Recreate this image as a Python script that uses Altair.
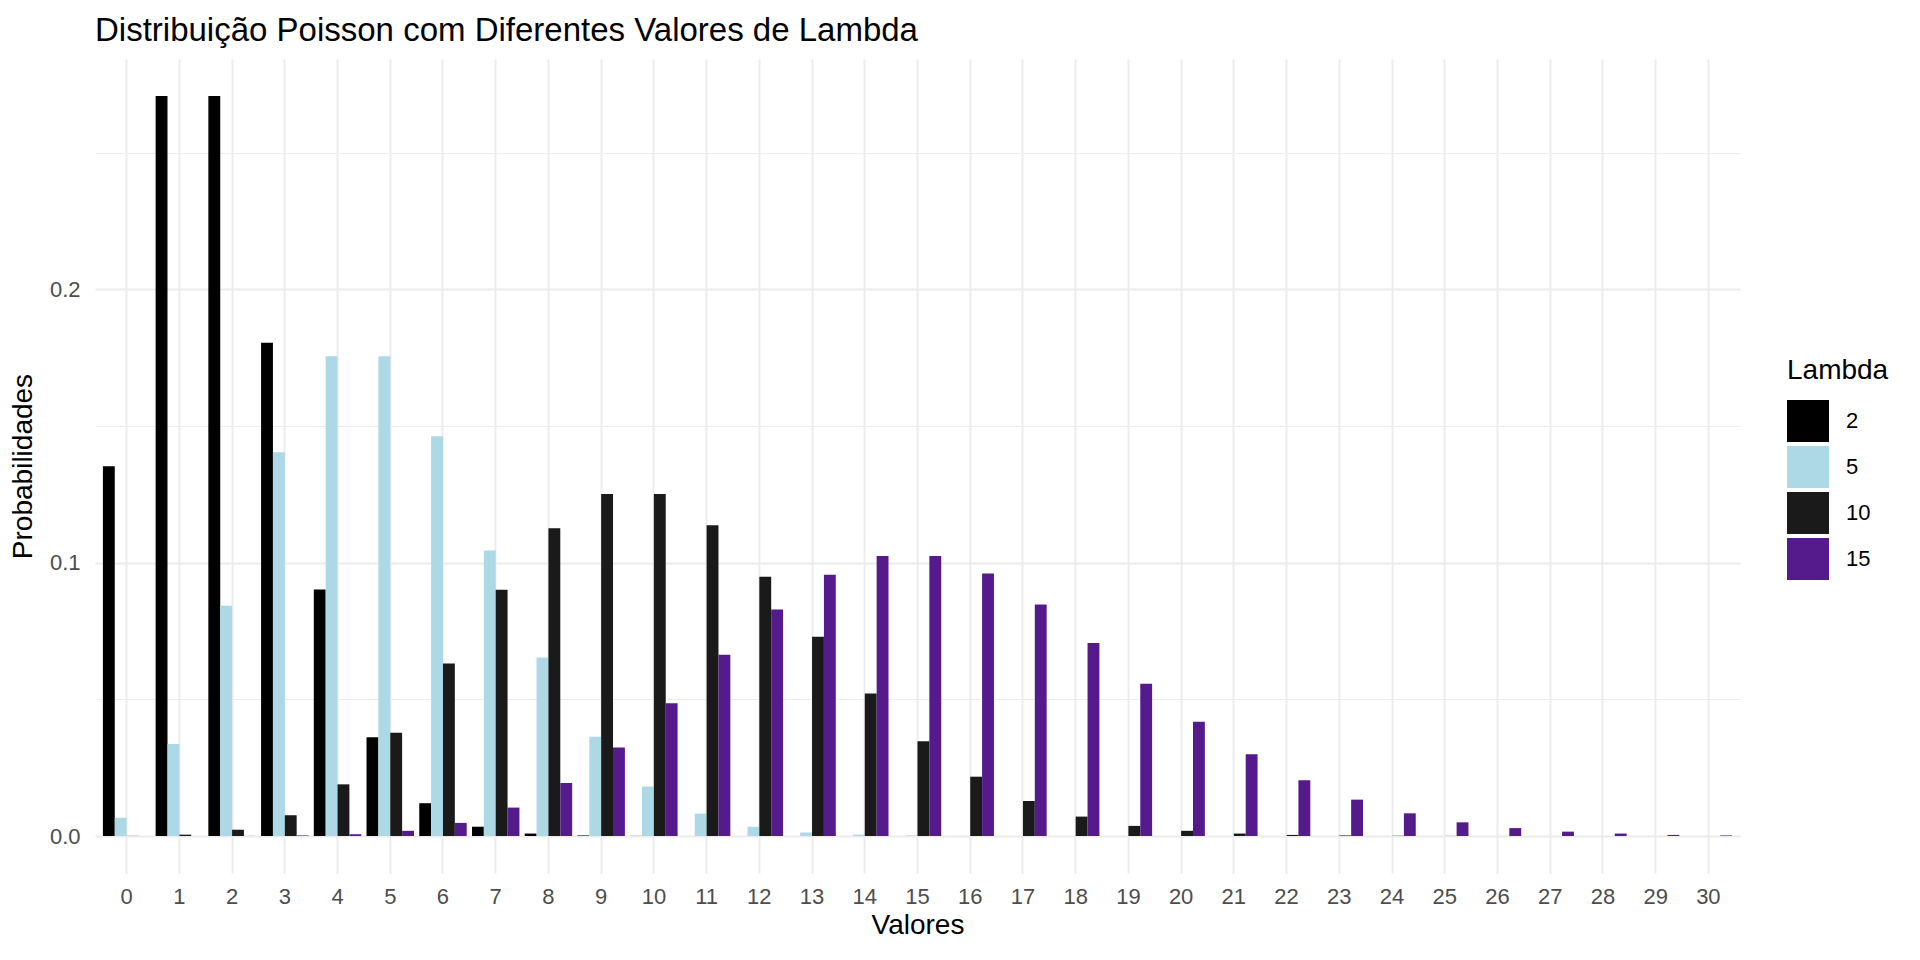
import altair as alt
import pandas as pd

valores = list(range(0, 31))
lambdas = ["2", "5", "10", "15"]
cores = ["#000000", "#ADD8E6", "#1A1A1A", "#551A8B"]

prob_l2 = [0.1353, 0.2707, 0.2707, 0.1804, 0.0902, 0.0361, 0.0120, 0.0034, 0.0009, 0.0002,
           0.00004, 0.00001, 0.0, 0.0, 0.0, 0.0, 0.0, 0.0, 0.0, 0.0,
           0.0, 0.0, 0.0, 0.0, 0.0, 0.0, 0.0, 0.0, 0.0, 0.0, 0.0]
prob_l5 = [0.0067, 0.0337, 0.0842, 0.1404, 0.1755, 0.1755, 0.1462, 0.1044, 0.0653, 0.0363,
           0.0181, 0.0082, 0.0034, 0.0013, 0.0005, 0.0002, 0.00005, 0.00001, 0.0, 0.0,
           0.0, 0.0, 0.0, 0.0, 0.0, 0.0, 0.0, 0.0, 0.0, 0.0, 0.0]
prob_l10 = [0.00005, 0.0005, 0.0023, 0.0076, 0.0189, 0.0378, 0.0631, 0.0901, 0.1126, 0.1251,
            0.1251, 0.1137, 0.0948, 0.0729, 0.0521, 0.0347, 0.0217, 0.0128, 0.0071, 0.0037,
            0.0019, 0.0009, 0.0004, 0.0002, 0.00008, 0.00003, 0.00001, 0.0, 0.0, 0.0, 0.0]
prob_l15 = [0.0, 0.0, 0.00003, 0.0002, 0.0006, 0.0019, 0.0048, 0.0104, 0.0194, 0.0324,
            0.0486, 0.0663, 0.0829, 0.0956, 0.1024, 0.1024, 0.0960, 0.0847, 0.0706, 0.0557,
            0.0418, 0.0299, 0.0204, 0.0133, 0.0083, 0.0050, 0.0029, 0.0016, 0.0009, 0.0004, 0.0002]

series = {"2": prob_l2, "5": prob_l5, "10": prob_l10, "15": prob_l15}
rows = []
for lam in lambdas:
    for v, p in zip(valores, series[lam]):
        rows.append({"Valores": v, "Lambda": lam, "Probabilidades": p})
df = pd.DataFrame(rows)

y_ticks = [0.0, 0.05, 0.1, 0.15, 0.2, 0.25]
minor_test = "datum.value == 0.05 || datum.value == 0.15 || datum.value == 0.25"

FONT = "Liberation Sans"

chart = alt.Chart(df).mark_bar().encode(
    x=alt.X(
        "Valores:O",
        title="Valores",
        scale=alt.Scale(paddingInner=0.1, paddingOuter=0.15),
        axis=alt.Axis(
            labelAngle=0, ticks=False, domain=False, grid=True, bandPosition=0.5,
            gridColor="#EBEBEB", gridWidth=1.9,
            labelFontSize=22, labelColor="#4D4D4D", labelPadding=13, labelFont=FONT,
            titleFontSize=28, titleFontWeight="normal", titleColor="#000000",
            titleFont=FONT, titlePadding=4,
        ),
    ),
    xOffset=alt.XOffset("Lambda:N", sort=lambdas,
                        scale=alt.Scale(paddingInner=0, paddingOuter=0)),
    y=alt.Y(
        "Probabilidades:Q",
        title="Probabilidades",
        scale=alt.Scale(domain=[-0.01353, 0.28423], zero=False, nice=False),
        axis=alt.Axis(
            values=y_ticks, ticks=False, domain=False, grid=True,
            gridColor="#EBEBEB",
            gridWidth=alt.condition(minor_test, alt.value(0.95), alt.value(1.9)),
            labelExpr=f"({minor_test}) ? '' : format(datum.value, '.1f')",
            labelFontSize=22, labelColor="#4D4D4D", labelPadding=15, labelFont=FONT,
            titleFontSize=28, titleFontWeight="normal", titleColor="#000000",
            titleFont=FONT, titlePadding=12,
        ),
    ),
    y2=alt.datum(0),
    color=alt.Color(
        "Lambda:N",
        sort=lambdas,
        scale=alt.Scale(domain=lambdas, range=cores),
        legend=alt.Legend(
            title="Lambda", orient="none", legendX=1692, legendY=298,
            symbolType="square", symbolSize=1764, symbolStrokeWidth=0, symbolOpacity=1,
            labelFontSize=22, labelColor="#000000", labelFont=FONT, labelOffset=17,
            titleFontSize=28, titleFontWeight="normal", titleColor="#000000",
            titleFont=FONT, titlePadding=15, rowPadding=4, padding=0,
        ),
    ),
).properties(
    width=1645,
    height=814,
    background="#FFFFFF",
    autosize=alt.AutoSizeParams(type="none"),
    padding={"left": 87, "top": 51, "right": 172, "bottom": 79},
    title=alt.TitleParams(
        "Distribuição Poisson com Diferentes Valores de Lambda",
        anchor="start", frame="group", fontSize=33, fontWeight="normal", font=FONT,
        color="#000000", offset=11,
    ),
).configure_view(strokeWidth=0, stroke="transparent")

chart.save("out.html", embed_options={"renderer": "svg", "actions": False})
